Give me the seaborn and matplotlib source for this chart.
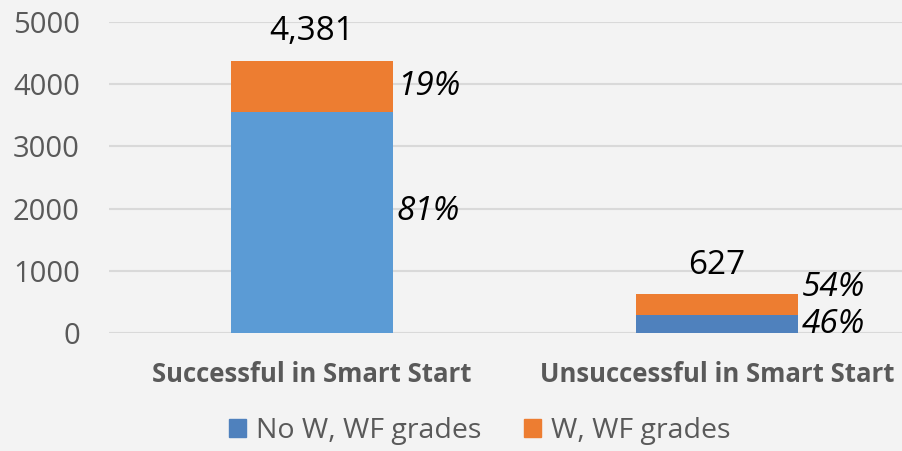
import matplotlib
matplotlib.use('Agg')
import matplotlib.pyplot as plt
import seaborn as sns
import pandas as pd
from matplotlib.patches import Patch

# data
categories = ['Successful in Smart Start', 'Unsuccessful in Smart Start']
totals = [4381, 627]
no_w_counts = [3549, 288]
w_counts = [832, 339]
no_w_pct = ['81%', '46%']
w_pct = ['19%', '54%']
total_labels = ['4,381', '627']
series_names = ['No W, WF grades', 'W, WF grades']

BLUE_BAR = ['#5B9BD5', '#4F81BD']
BLUE_LEG = '#4F81BD'
ORANGE = '#ED7D31'
BG = '#F3F3F3'
GRAY_TXT = '#595959'

df = pd.DataFrame({'category': categories, 'total': totals, 'no_w': no_w_counts, 'w': w_counts})

sns.set_style('white')
plt.rcParams['font.family'] = ['Open Sans', 'DejaVu Sans']

fig = plt.figure(figsize=(9.02, 4.51), dpi=100, facecolor=BG)
ax = fig.add_axes([0.1208, 0.2616, 0.8792, 0.6896])
ax.set_facecolor(BG)

# stacked: total in orange underneath, blue part drawn on top
sns.barplot(data=df, x='category', y='total', color=ORANGE, width=0.4,
            saturation=1, linewidth=0, ax=ax, zorder=2)
sns.barplot(data=df, x='category', y='no_w', hue='category', palette=BLUE_BAR,
            legend=False, width=0.4, saturation=1, linewidth=0, ax=ax, zorder=3)

ax.set_ylim(0, 5000)
ax.set_xlim(-0.5, 1.457)
ax.set_yticks(range(0, 5001, 1000))
ax.yaxis.grid(True, color='#D9D9D9', linewidth=1.5, zorder=0)
ax.set_axisbelow(True)
for s in ax.spines.values():
    s.set_visible(False)
ax.set_xlabel('')
ax.set_ylabel('')
ax.tick_params(axis='y', length=0, pad=21, labelsize=21, labelcolor=GRAY_TXT)
ax.tick_params(axis='x', length=0, pad=20, labelsize=18.5, labelcolor=GRAY_TXT)
for t in ax.get_xticklabels():
    t.set_fontweight('bold')

# totals above bars
for i, tot in enumerate(totals):
    ax.annotate(total_labels[i], (i, tot), xytext=(0, 9), textcoords='offset points',
                ha='center', va='bottom', fontsize=24, color='black')

# percentage labels to the right of each segment (small vertical nudges like the original)
w_nudge = [0, 12]
no_w_nudge = [8, 0]
for i in range(len(categories)):
    nb, nw = no_w_counts[i], w_counts[i]
    ax.annotate(w_pct[i], (i + 0.2, nb + nw / 2), xytext=(3, w_nudge[i]),
                textcoords='offset points', ha='left', va='center', fontsize=24,
                style='italic', color='black')
    ax.annotate(no_w_pct[i], (i + 0.2, nb / 2), xytext=(3, no_w_nudge[i]),
                textcoords='offset points', ha='left', va='center', fontsize=24,
                style='italic', color='black')

handles = [Patch(color=BLUE_LEG, label=series_names[0]), Patch(color=ORANGE, label=series_names[1])]
fig.legend(handles=handles, loc='center', bbox_to_anchor=(0.532, 0.045), ncol=2,
           frameon=False, fontsize=20.5, handlelength=0.6, handleheight=0.6,
           handletextpad=0.35, columnspacing=1.5, labelcolor=GRAY_TXT,
           borderpad=0.1)

fig.savefig('out.png', dpi=100, facecolor=BG)
